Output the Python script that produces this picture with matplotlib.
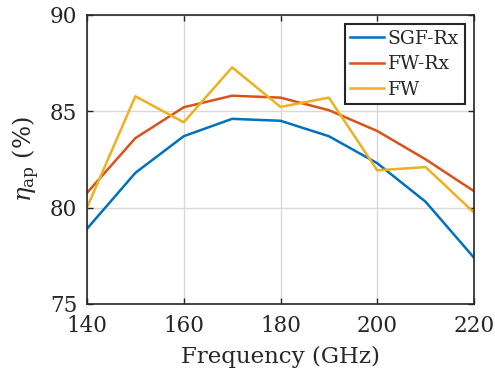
import matplotlib
matplotlib.use("Agg")
import matplotlib.pyplot as plt

freq = [140, 150, 160, 170, 180, 190, 200, 210, 220]
sgf_rx = [78.9, 81.8, 83.7, 84.6, 84.5, 83.7, 82.3, 80.3, 77.4]
fw_rx = [80.76, 83.6, 85.2, 85.8, 85.7, 85.05, 83.97, 82.5, 80.85]
fw = [80.0, 85.77, 84.42, 87.27, 85.22, 85.7, 81.93, 82.1, 79.74]
series_names = ["SGF-Rx", "FW-Rx", "FW"]
colors = ["#0072BD", "#D95319", "#EDB120"]
xticks = [140, 160, 180, 200, 220]
yticks = [75, 80, 85, 90]

plt.rcParams['font.family'] = ['DejaVu Serif']
plt.rcParams['mathtext.fontset'] = 'dejavuserif'

fig = plt.figure(figsize=(4.95, 3.78), dpi=100)
ax = fig.add_axes([87/495, 1 - 304/378, (474 - 87)/495, (304 - 14.7)/378])

for vals, name, c in zip([sgf_rx, fw_rx, fw], series_names, colors):
    ax.plot(freq, vals, color=c, lw=1.8, label=name)

ax.set_xlim(140, 220)
ax.set_ylim(75, 90)
ax.set_xticks(xticks)
ax.set_yticks(yticks)
ax.grid(True, color='#d9d9d9', lw=1.0)
ax.tick_params(direction='in', top=True, right=True, labelsize=15.5,
               colors='#262626', length=4, width=1)
ax.tick_params(axis='x', pad=8)
ax.tick_params(axis='y', pad=7)
for s in ax.spines.values():
    s.set_color('#262626')
    s.set_linewidth(1.2)
ax.set_xlabel('Frequency (GHz)', fontsize=16.5, color='#262626', labelpad=6)
ax.set_ylabel(r'$\eta_{\rm ap}$ (%)', fontsize=17.5, color='#262626', labelpad=6)

leg = ax.legend(loc='upper right', fontsize=13.5, fancybox=False, framealpha=1,
                edgecolor='#262626', handlelength=1.8, borderpad=0.3,
                labelspacing=0.4, handletextpad=0.2, borderaxespad=0.5)
leg.get_frame().set_linewidth(1.5)
for t in leg.get_texts():
    t.set_color('#262626')

fig.savefig('out.png', dpi=100)
